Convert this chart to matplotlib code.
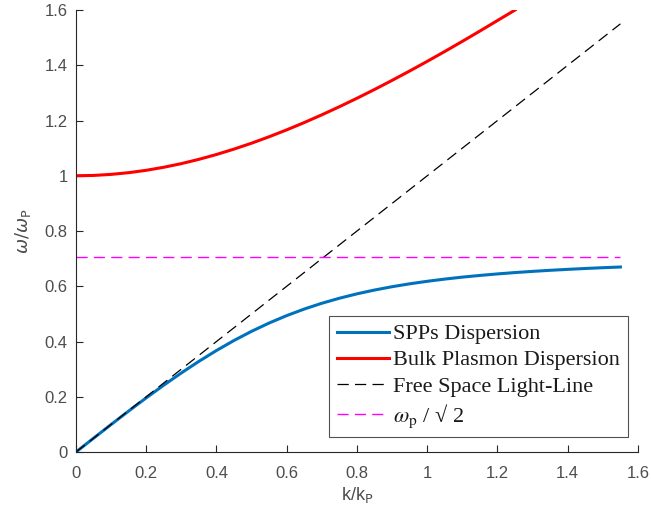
import matplotlib
matplotlib.use("Agg")
import matplotlib.pyplot as plt

plt.rcParams['mathtext.fontset'] = 'stix'

# wavenumber samples (k / k_p)
k_spp = [0.00, 0.05, 0.10, 0.15, 0.20, 0.25, 0.30, 0.35, 0.40, 0.45, 0.50,
         0.55, 0.60, 0.65, 0.70, 0.75, 0.80, 0.85, 0.90, 0.95, 1.00, 1.05,
         1.10, 1.15, 1.20, 1.25, 1.30, 1.35, 1.40, 1.45, 1.50, 1.55]
w_spp = [0.0000, 0.0499, 0.0995, 0.1483, 0.1960, 0.2421, 0.2863, 0.3282,
         0.3675, 0.4038, 0.4370, 0.4670, 0.4938, 0.5176, 0.5385, 0.5567,
         0.5726, 0.5864, 0.5984, 0.6089, 0.6180, 0.6260, 0.6331, 0.6392,
         0.6447, 0.6496, 0.6539, 0.6578, 0.6612, 0.6644, 0.6672, 0.6697]

k_bulk = [0.00, 0.05, 0.10, 0.15, 0.20, 0.25, 0.30, 0.35, 0.40, 0.45, 0.50,
          0.55, 0.60, 0.65, 0.70, 0.75, 0.80, 0.85, 0.90, 0.95, 1.00, 1.05,
          1.10, 1.15, 1.20, 1.25]
w_bulk = [1.0000, 1.0012, 1.0050, 1.0112, 1.0198, 1.0308, 1.0440, 1.0595,
          1.0770, 1.0966, 1.1180, 1.1413, 1.1662, 1.1927, 1.2207, 1.2500,
          1.2806, 1.3124, 1.3454, 1.3793, 1.4142, 1.4500, 1.4866, 1.5240,
          1.5620, 1.6000]

k_light = [0.0, 1.55]
w_light = [0.0, 1.55]

k_wsp = [0.0, 1.55]
w_wsp = [0.7071, 0.7071]

x_ticks = [0, 0.2, 0.4, 0.6, 0.8, 1.0, 1.2, 1.4, 1.6]
x_ticklabels = ['0', '0.2', '0.4', '0.6', '0.8', '1', '1.2', '1.4', '1.6']
y_ticks = [0, 0.2, 0.4, 0.6, 0.8, 1.0, 1.2, 1.4, 1.6]
y_ticklabels = ['0', '0.2', '0.4', '0.6', '0.8', '1', '1.2', '1.4', '1.6']

fig = plt.figure(figsize=(6.51, 5.14), dpi=100)
ax = fig.add_axes([0.1167, 0.1206, 0.8633, 0.8599])

ax.plot(k_spp, w_spp, color='#0072BD', lw=2.2, label='SPPs Dispersion')
ax.plot(k_bulk, w_bulk, color='#FF0000', lw=2.2, label='Bulk Plasmon Dispersion')
ax.plot(k_light, w_light, color='black', lw=0.9, dashes=(9, 5),
        label='Free Space Light-Line')
ax.plot(k_wsp, w_wsp, color='#FF00FF', lw=1.0, dashes=(8, 4.5),
        label=r'$\omega_{\mathrm{p}}$ / √ 2')

ax.set_xlim(0, 1.6)
ax.set_ylim(0, 1.6)
ax.set_xticks(x_ticks)
ax.set_xticklabels(x_ticklabels)
ax.set_yticks(y_ticks)
ax.set_yticklabels(y_ticklabels)

grey = '#262626'
for side in ('top', 'right'):
    ax.spines[side].set_visible(False)
for side in ('left', 'bottom'):
    ax.spines[side].set_color(grey)
    ax.spines[side].set_linewidth(0.8)
ax.tick_params(direction='in', length=5, width=0.8, color=grey,
               labelcolor='#4d4d4d', labelsize=12)
ax.tick_params(axis='x', pad=10)
ax.tick_params(axis='y', pad=6)
for lab in ax.get_xticklabels() + ax.get_yticklabels():
    lab.set_family('Liberation Sans')

ax.set_xlabel(r'k/k$_\mathrm{P}$', fontsize=13, color='#4d4d4d',
              family='Liberation Sans', labelpad=3)
ax.set_ylabel(r'$\omega/\omega_\mathrm{P}$', fontsize=13, color='#4d4d4d',
              family='Liberation Sans', labelpad=8)
ax.xaxis.label.set_math_fontfamily('dejavusans')
ax.yaxis.label.set_math_fontfamily('dejavusans')

leg = ax.legend(loc='upper left', bbox_to_anchor=(0.450, 0.3077),
                prop={'family': ['Liberation Serif', 'DejaVu Serif'], 'size': 16},
                frameon=True, fancybox=False, borderpad=0.35,
                labelspacing=0.25, handlelength=2.35, handletextpad=0.2,
                borderaxespad=0)
leg.get_frame().set_edgecolor(grey)
leg.get_frame().set_linewidth(0.8)
for t in leg.get_texts():
    t.set_color('#1a1a1a')

fig.savefig('out.png', dpi=100)
